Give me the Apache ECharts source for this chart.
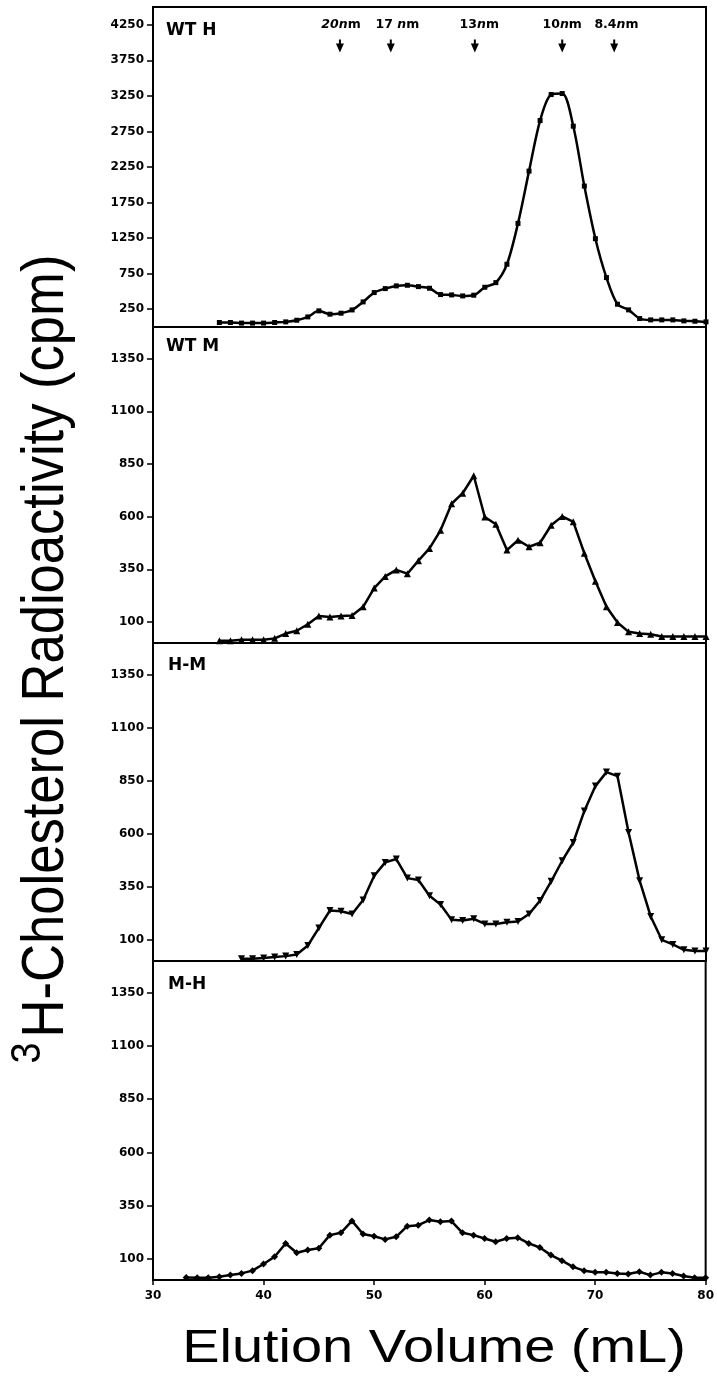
<!DOCTYPE html>
<html>
<head>
<meta charset="utf-8">
<script src="https://cdn.jsdelivr.net/npm/echarts@6/dist/echarts.min.js"></script>
<style>html,body{margin:0;padding:0;background:#fff}#c{width:717px;height:1380px}</style>
</head>
<body>
<div id="c"></div>
<script>
// ---- data ----
const panelNames = ['WT H', 'WT M', 'H-M', 'M-H'];

const xWTH = [36,37,38,39,40,41,42,43,44,45,46,47,48,49,50,51,52,53,54,55,56,57,58,59,60,61,62,63,64,65,66,67,68,69,70,71,72,73,74,75,76,77,78,79,80];
const yWTH = [63,63,55,55,55,63,72,95,142,227,180,194,240,353,484,540,578,587,568,545,456,451,437,447,559,624,882,1457,2192,2903,3269,3283,2824,1982,1242,695,320,241,119,100,100,100,86,81,72];

const xWTM = [36,37,38,39,40,41,42,43,44,45,46,47,48,49,50,51,52,53,54,55,56,57,58,59,60,61,62,63,64,65,66,67,68,69,70,71,72,73,74,75,76,77,78,79,80];
const yWTM = [11,11,15,15,15,22,45,58,89,128,123,128,131,172,261,316,347,329,391,449,535,661,711,794,598,564,441,488,457,476,559,601,575,426,293,172,97,53,45,42,31,31,31,31,31];

const xHM = [38,39,40,41,42,43,44,45,46,47,48,49,50,51,52,53,54,55,56,57,58,59,60,61,62,63,64,65,66,67,68,69,70,71,72,73,74,75,76,77,78,79,80];
const yHM = [11,11,14,19,23,31,73,156,238,235,222,288,402,465,481,391,382,308,266,194,191,199,175,175,183,186,222,285,376,473,559,708,825,891,872,606,379,210,100,78,53,47,47];

const xMH = [33,34,35,36,37,38,39,40,41,42,43,44,45,46,47,48,49,50,51,52,53,54,55,56,57,58,59,60,61,62,63,64,65,66,67,68,69,70,71,72,73,74,75,76,77,78,79,80];
const yMH = [12,11,11,15,23,31,44,75,109,172,128,141,149,211,222,278,216,206,191,203,253,258,282,274,277,222,211,195,180,195,199,172,153,117,91,62,44,36,36,31,28,39,23,36,31,19,11,11];

const yTicksTop = [250,750,1250,1750,2250,2750,3250,3750,4250];
const yTicksLower = [100,350,600,850,1100,1350];
const xTicks = [30,40,50,60,70,80];

// size markers (arrows) in WT H panel
const arrowX = [46.9, 51.5, 59.1, 67.0, 71.7];
const arrowY = [3950, 3950, 3950, 3950, 3950];
const markLabelX = [47.0, 52.1, 59.5, 67.0, 71.9];
const markLabelY = [4245, 4245, 4245, 4245, 4245];
const markNum = ['20', '17 ', '13', '10', '8.4'];
const markNumItalic = [true, false, false, false, false];

const yTitleMain = 'H-Cholesterol Radioactivity (cpm)';
const yTitleSup = '3';
const xTitle = 'Elution Volume (mL)';

// ---- chart ----
const zip = (xs, ys) => xs.map((x, i) => [x, ys[i]]);
const tickFont = 'DejaVu Sans';

const grids = [
  {left: 153, width: 553, top: 7, height: 320},
  {left: 153, width: 553, top: 327, height: 316},
  {left: 153, width: 553, top: 643, height: 318},
  {left: 153, width: 553, top: 961, height: 319}
].map(g => Object.assign(g, {show: true, borderColor: '#000', borderWidth: 2, backgroundColor: 'transparent', containLabel: false}));

function yAxis(i, max, ticks) {
  return {
    type: 'value', gridIndex: i, min: 0, max: max,
    splitLine: {show: false},
    axisLine: {show: true, lineStyle: {color: '#000', width: 2}},
    axisTick: {show: true, length: 6, inside: false, customValues: ticks, lineStyle: {color: '#000', width: 1.5}},
    axisLabel: {show: true, customValues: ticks, margin: 9, color: '#000', fontFamily: tickFont, fontWeight: 'bold', fontSize: 12,
      formatter: v => String(v)}
  };
}
function xAxis(i, showLabels) {
  return {
    type: 'value', gridIndex: i, min: 30, max: 80, interval: 10,
    splitLine: {show: false},
    axisLine: {show: true, lineStyle: {color: '#000', width: 2}},
    axisTick: {show: showLabels, length: 5, lineStyle: {color: '#000', width: 1.5}},
    axisLabel: {show: showLabels, margin: 10, color: '#000', fontFamily: tickFont, fontWeight: 'bold', fontSize: 12,
      formatter: v => String(v)}
  };
}

const lineBase = {
  type: 'line', showAllSymbol: true, color: '#000',
  lineStyle: {color: '#000', width: 2.5, join: 'round'},
  itemStyle: {color: '#000', opacity: 1},
  z: 3
};

const titles = [
  {text: panelNames[0], left: 166, top: 22},
  {text: panelNames[1], left: 166, top: 338},
  {text: panelNames[2], left: 168, top: 657},
  {text: panelNames[3], left: 168, top: 976}
].map(t => Object.assign(t, {padding: 0, textStyle: {color: '#000', fontFamily: tickFont, fontWeight: 'bold', fontSize: 17}}));

const option = {
  animation: false,
  backgroundColor: '#fff',
  title: titles,
  grid: grids,
  xAxis: [xAxis(0, false), xAxis(1, false), xAxis(2, false), xAxis(3, true)],
  yAxis: [yAxis(0, 4500, yTicksTop), yAxis(1, 1500, yTicksLower), yAxis(2, 1500, yTicksLower), yAxis(3, 1500, yTicksLower)],
  series: [
    Object.assign({}, lineBase, {xAxisIndex: 0, yAxisIndex: 0, data: zip(xWTH, yWTH), smooth: 0.3, symbol: 'rect', symbolSize: 5}),
    Object.assign({}, lineBase, {xAxisIndex: 1, yAxisIndex: 1, data: zip(xWTM, yWTM), symbol: 'triangle', symbolSize: 7}),
    Object.assign({}, lineBase, {xAxisIndex: 2, yAxisIndex: 2, data: zip(xHM, yHM), symbol: 'triangle', symbolRotate: 180, symbolSize: 7}),
    Object.assign({}, lineBase, {xAxisIndex: 3, yAxisIndex: 3, data: zip(xMH, yMH), symbol: 'diamond', symbolSize: 7}),
    {
      type: 'scatter', xAxisIndex: 0, yAxisIndex: 0, data: zip(arrowX, arrowY),
      symbol: 'path://M3,0 L5,0 L5,4 L8,4 L4,13 L0,4 L3,4 Z', symbolSize: [8, 13], symbolKeepAspect: false,
      itemStyle: {color: '#000', opacity: 1}, z: 4, emphasis: {disabled: true}
    },
    {
      type: 'scatter', xAxisIndex: 0, yAxisIndex: 0,
      data: zip(markLabelX, markLabelY),
      symbolSize: 0.1, itemStyle: {color: 'rgba(0,0,0,0)', opacity: 1}, z: 4,
      label: {
        show: true, position: 'inside', color: '#000', opacity: 1,
        formatter: p => {
          const i = p.dataIndex;
          return (markNumItalic[i] ? '{it|' : '{b|') + markNum[i] + '}{it|n}{b|m}';
        },
        rich: {
          b: {fontFamily: tickFont, fontWeight: 'bold', fontSize: 12.5, color: '#000'},
          it: {fontFamily: tickFont, fontWeight: 'bold', fontStyle: 'italic', fontSize: 12.5, color: '#000'}
        }
      },
      emphasis: {disabled: true}
    }
  ],
  graphic: [
    {
      type: 'text', x: 46, y: 646, rotation: Math.PI / 2, scaleX: 0.876,
      style: {text: yTitleMain, font: 'normal 60px "Liberation Sans", Arial, sans-serif', fill: '#000',
        align: 'center', verticalAlign: 'middle', textAlign: 'center', textVerticalAlign: 'middle'}
    },
    {
      type: 'text', x: 28, y: 1053, rotation: Math.PI / 2, scaleX: 0.9,
      style: {text: yTitleSup, font: 'normal 42px "Liberation Sans", Arial, sans-serif', fill: '#000',
        align: 'center', verticalAlign: 'middle', textAlign: 'center', textVerticalAlign: 'middle'}
    },
    {
      type: 'text', x: 434, y: 1349, scaleX: 1.19,
      style: {text: xTitle, font: 'normal 47px "Liberation Sans", Arial, sans-serif', fill: '#000',
        align: 'center', verticalAlign: 'middle', textAlign: 'center', textVerticalAlign: 'middle'}
    }
  ]
};

const chart = echarts.init(document.getElementById('c'), null, {renderer: 'canvas'});
chart.setOption(option);
</script>
</body>
</html>
